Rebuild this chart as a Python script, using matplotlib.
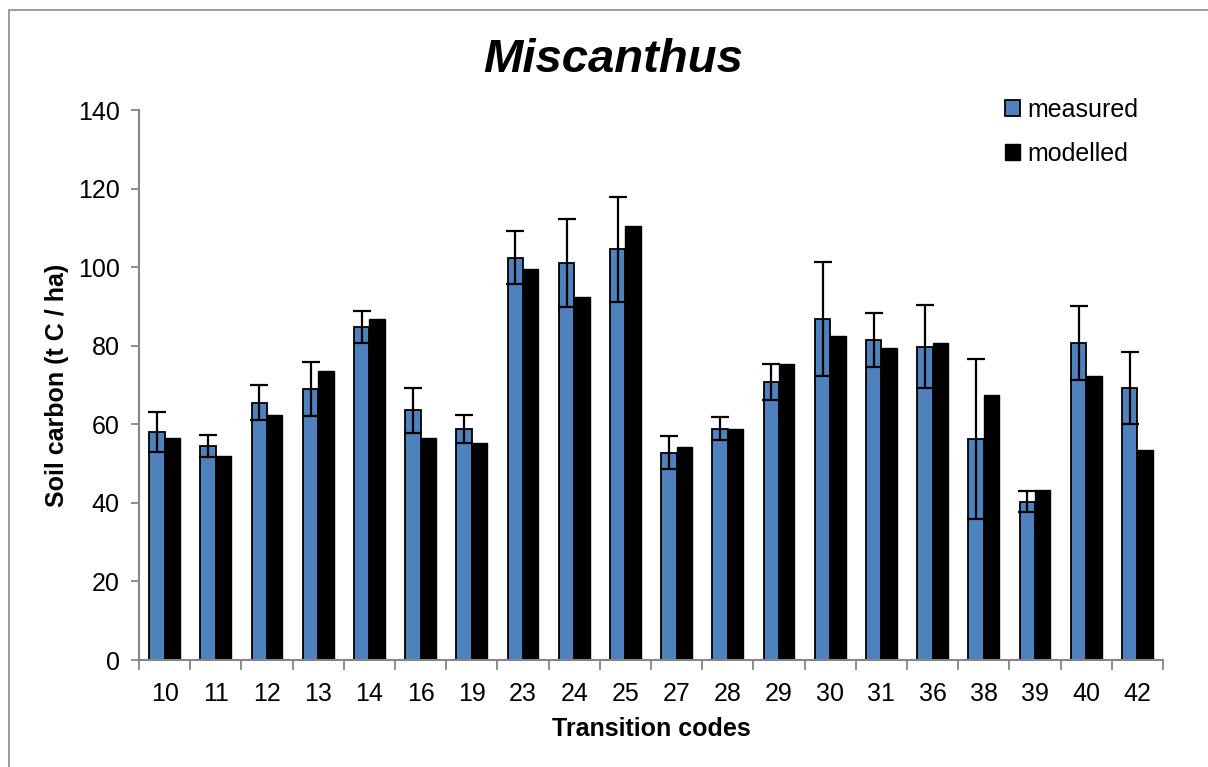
import matplotlib
matplotlib.use('Agg')
import matplotlib.pyplot as plt
import numpy as np
from matplotlib.patches import Rectangle

# --- Datos ---
codigos = ['10', '11', '12', '13', '14', '16', '19', '23', '24', '25',
           '27', '28', '29', '30', '31', '36', '38', '39', '40', '42']
medido = [58.1, 54.5, 65.5, 68.9, 84.8, 63.6, 58.8, 102.4, 101.0, 104.5,
          52.8, 58.9, 70.8, 86.7, 81.5, 79.8, 56.3, 40.3, 80.6, 69.3]
error_medido = [5.1, 2.8, 4.4, 6.9, 4.0, 5.7, 3.6, 6.8, 11.2, 13.4,
                4.1, 3.0, 4.6, 14.5, 6.9, 10.6, 20.4, 2.6, 9.4, 9.1]
modelado = [56.5, 51.9, 62.4, 73.6, 86.7, 56.5, 55.3, 99.6, 92.3, 110.6,
            54.3, 58.7, 75.3, 82.6, 79.3, 80.6, 67.5, 43.2, 72.4, 53.4]

plt.rcParams['font.family'] = ['Liberation Sans', 'DejaVu Sans']

fig = plt.figure(figsize=(12.08, 7.67), dpi=100)
fig.set_facecolor('white')

# marco gris exterior (se sale por la derecha y por abajo)
fig.patches.append(Rectangle((9 / 1208, -0.2), 1.5, 1.2 - 10 / 767,
                             transform=fig.transFigure, fill=False,
                             edgecolor='#8c8c8c', linewidth=1.2))

ax = fig.add_axes([139 / 1208, 1 - 660 / 767, (1163 - 139) / 1208, 550 / 767])

x = np.arange(len(codigos))
ancho = 0.3
gris = '#868686'

ax.bar(x - ancho / 2, medido, ancho, color='#4f81bd', edgecolor='black',
       linewidth=1.3, label='measured', zorder=2)
ax.bar(x + ancho / 2, modelado, ancho, color='black', edgecolor='black',
       linewidth=1.0, label='modelled', zorder=2)
ax.errorbar(x - ancho / 2, medido, yerr=error_medido, fmt='none',
            ecolor='black', elinewidth=1.6, capsize=6.5, capthick=1.6, zorder=3)

ax.set_xlim(-0.5, len(codigos) - 0.5)
ax.set_ylim(0, 140)
ax.set_yticks(range(0, 141, 20))

ax.set_xticks(x)
ax.set_xticklabels(codigos, fontsize=18)
ax.tick_params(axis='x', length=0, pad=16)
ax.set_xticks(np.arange(-0.5, len(codigos), 1), minor=True)
ax.tick_params(axis='x', which='minor', length=7, width=1.3, color=gris,
               direction='out')
ax.tick_params(axis='y', length=6, width=1.3, color=gris, labelsize=18, pad=8)

for lado in ['top', 'right']:
    ax.spines[lado].set_visible(False)
for lado in ['left', 'bottom']:
    ax.spines[lado].set_color(gris)
    ax.spines[lado].set_linewidth(1.5)

ax.set_xlabel('Transition codes', fontsize=18, fontweight='bold', labelpad=8)
ax.set_ylabel('Soil carbon (t C / ha)', fontsize=18, fontweight='bold', labelpad=6)

fig.text(613 / 1208, 1 - 60 / 767, 'Miscanthus', ha='center',
         va='center', fontsize=34, fontweight='bold', fontstyle='italic')

ax.legend(loc='upper left', bbox_to_anchor=(995 / 1208, 1 - 88 / 767),
          bbox_transform=fig.transFigure, frameon=False, fontsize=18,
          handlelength=0.6, handleheight=0.6, handletextpad=0.3,
          labelspacing=0.8, borderaxespad=0)

plt.savefig('out.png', dpi=100, facecolor=fig.get_facecolor())
